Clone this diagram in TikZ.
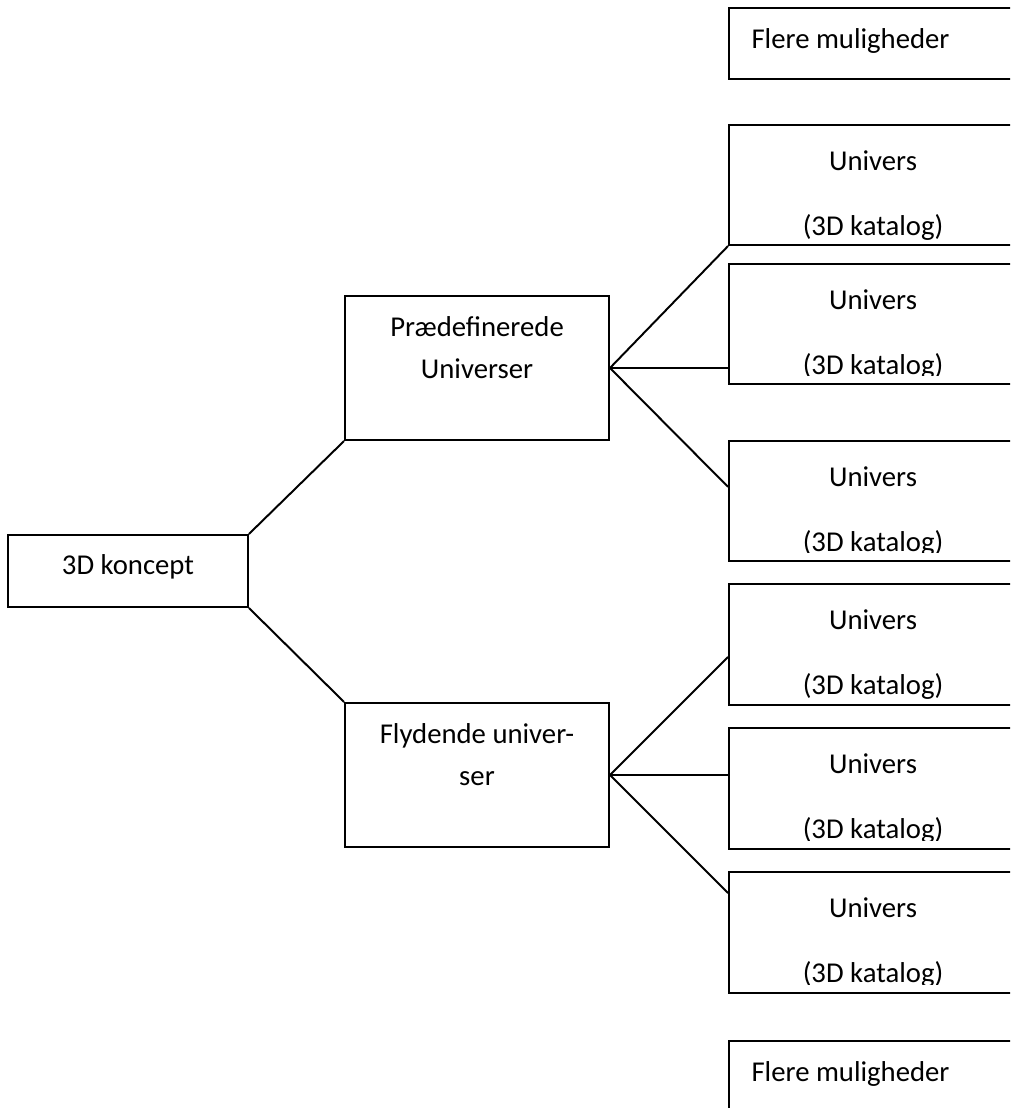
\documentclass[tikz,border=0pt]{standalone}
\usepackage{fontspec}
\setmainfont{Carlito}
\usetikzlibrary{positioning}
\tikzset{
  box/.style={draw, line width=0.75pt, inner sep=0pt},
  ubox/.style={box, minimum width=110.3pt, minimum height=46pt},
  mbox/.style={box, minimum width=110.3pt, minimum height=27.2pt},
  txt/.style={inner sep=0pt, align=center, anchor=north, font=\fontsize{11pt}{16.1pt}\selectfont},
  utxt/.style={txt, font=\fontsize{11pt}{12.45pt}\selectfont},
  link/.style={line width=0.75pt},
}
\begin{document}
\begin{tikzpicture}[x=0.383pt, y=-0.383pt]
  \useasboundingbox (0,0) rectangle (1010,1108);
  \clip (0,0) rectangle (1010,1108);
  % tree
  \node[box, minimum width=91.9pt, minimum height=27.6pt] (kon) at (128,571) {};
  \node[box, minimum width=101.1pt, minimum height=55.2pt] (pu) at (477,368) {};
  \node[box, minimum width=101.1pt, minimum height=55.2pt] (fu) at (477,775) {};
  \node[txt] (kon-t) at ([yshift=-7.7pt]kon.north) {3D koncept};
  \node[txt] (pu-t) at ([yshift=-8.2pt]pu.north) {Prædefinerede\\Universer};
  \node[txt] (fu-t) at ([yshift=-8.2pt]fu.north) {Flydende univer-\\ser};
  % universer
  \node[mbox] (m1) at (873,43.5) {};
  \node[ubox] (u1) at (873,185) {};
  \node[ubox] (u2) at (873,324) {};
  \node[ubox] (u3) at (873,501) {};
  \node[ubox] (u4) at (873,644.5) {};
  \node[ubox] (u5) at (873,788.5) {};
  \node[ubox] (u6) at (873,932.5) {};
  \node[mbox] (m2) at (873,1076.5) {};
  \node[txt, anchor=north west] (m1-t) at ([xshift=8.8pt, yshift=-8.2pt]m1.north west) {Flere muligheder};
  \node[txt, anchor=north west] (m2-t) at ([xshift=8.8pt, yshift=-8.2pt]m2.north west) {Flere muligheder};
  \foreach \u/\c in {u1/1.5pt, u2/3.6pt, u3/3.6pt, u4/0pt, u5/3.6pt, u6/3.6pt}{
    \begin{scope}
      \clip (\u.north west) rectangle ([yshift=\c]\u.south east);
      \node[utxt] (\u-t) at ([yshift=-10pt]\u.north) {Univers\\[12.45pt](3D katalog)};
    \end{scope}
  }
  % connectors
  \draw[link] (kon.north east) -- (pu.south west);
  \draw[link] (kon.south east) -- (fu.north west);
  \draw[link] (pu.east) -- (u1.south west);
  \draw[link] (pu.east) -- (pu.east -| u2.west);
  \draw[link] (pu.east) -- ([yshift=5.4pt]u3.west);
  \draw[link] (fu.east) -- ([yshift=-4.8pt]u4.west);
  \draw[link] (fu.east) -- (fu.east -| u5.west);
  \draw[link] (fu.east) -- ([yshift=15.1pt]u6.west);
\end{tikzpicture}
\end{document}
